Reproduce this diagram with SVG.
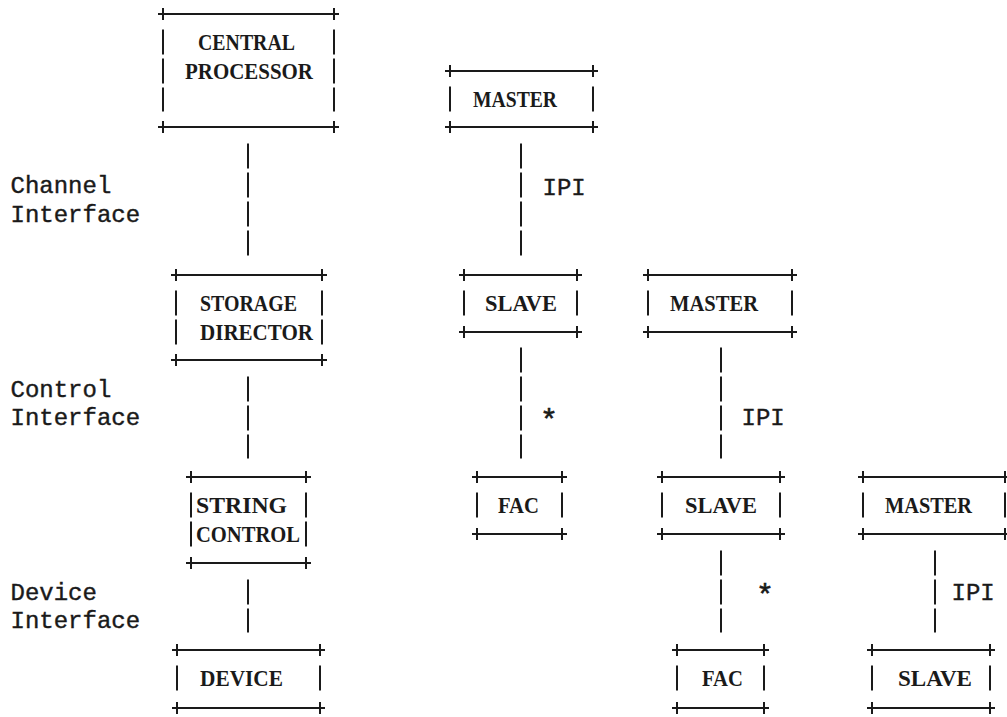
<svg xmlns="http://www.w3.org/2000/svg" width="1007" height="717" viewBox="0 0 1007 717">
<style>
text{font-family:"Liberation Mono","Courier New",monospace;font-size:24px;fill:#1a1a1a}
.bt{font-family:"Liberation Serif","Times New Roman",serif;font-weight:bold;font-size:24px}
.lb{stroke:#1a1a1a;stroke-width:0.4}
.as{font-size:30px;stroke:#1a1a1a;stroke-width:0.6}
.b{stroke:#1a1a1a;stroke-width:2;fill:none}
.v{stroke:#1a1a1a;stroke-width:2;fill:none;stroke-dasharray:25 4}
</style>
<rect width="1007" height="717" fill="#fff"/>
<g id="labels">
<text class="lb" x="10.5" y="193">Channel</text>
<text class="lb" x="10.5" y="222">Interface</text>
<text class="lb" x="10.5" y="397">Control</text>
<text class="lb" x="10.5" y="425">Interface</text>
<text class="lb" x="10.5" y="600">Device</text>
<text class="lb" x="10.5" y="628">Interface</text>
</g>
<g id="connectors">
<path class="v" d="M248 143.5V256.5"/>
<path class="v" d="M248 376.5V458.5"/>
<path class="v" d="M248 579.5V632.5"/>
<path class="v" d="M521 143.5V256.5"/>
<path class="v" d="M521 347.5V458.5"/>
<path class="v" d="M721 347.5V458.5"/>
<path class="v" d="M721 550.5V632.5"/>
<path class="v" d="M935 550.5V632.5"/>
<text class="lb" x="542.5" y="195">IPI</text>
<text class="as" x="540" y="430">*</text>
<text class="lb" x="741.5" y="425">IPI</text>
<text class="as" x="756" y="605">*</text>
<text class="lb" x="951.5" y="600">IPI</text>
</g>
<g id="central-processor">
<path class="b" d="M158 14H339M163 8V20M334 8V20M158 127H339M163 121V133M334 121V133"/>
<path class="v" d="M163 29.5V111.5M334 29.5V111.5"/>
<text class="bt" x="198" y="50" textLength="97" lengthAdjust="spacingAndGlyphs">CENTRAL</text>
<text class="bt" x="185" y="79" textLength="128" lengthAdjust="spacingAndGlyphs">PROCESSOR</text>
</g>
<g id="master-1">
<path class="b" d="M445 71H598M450 65V77M593 65V77M445 127H598M450 121V133M593 121V133"/>
<path class="v" d="M450 86.5V111.5M593 86.5V111.5"/>
<text class="bt" x="473" y="107" textLength="84" lengthAdjust="spacingAndGlyphs">MASTER</text>
</g>
<g id="storage-director">
<path class="b" d="M171 275H327M176 269V281M322 269V281M171 360H327M176 354V366M322 354V366"/>
<path class="v" d="M176 290.5V344.5M322 290.5V344.5"/>
<text class="bt" x="200" y="311" textLength="97" lengthAdjust="spacingAndGlyphs">STORAGE</text>
<text class="bt" x="200" y="340" textLength="113" lengthAdjust="spacingAndGlyphs">DIRECTOR</text>
</g>
<g id="slave-1">
<path class="b" d="M459 275H582M464 269V281M577 269V281M459 332H582M464 326V338M577 326V338"/>
<path class="v" d="M464 290.5V315.5M577 290.5V315.5"/>
<text class="bt" x="485" y="311" textLength="72" lengthAdjust="spacingAndGlyphs">SLAVE</text>
</g>
<g id="master-2">
<path class="b" d="M643 275H797M648 269V281M792 269V281M643 332H797M648 326V338M792 326V338"/>
<path class="v" d="M648 290.5V315.5M792 290.5V315.5"/>
<text class="bt" x="670" y="311" textLength="88" lengthAdjust="spacingAndGlyphs">MASTER</text>
</g>
<g id="string-control">
<path class="b" d="M186 477H311M191 471V483M306 471V483M186 563H311M191 557V569M306 557V569"/>
<path class="v" d="M191 492.5V546.5M306 492.5V546.5"/>
<text class="bt" x="196" y="513" textLength="91" lengthAdjust="spacingAndGlyphs">STRING</text>
<text class="bt" x="196" y="542" textLength="104" lengthAdjust="spacingAndGlyphs">CONTROL</text>
</g>
<g id="fac-1">
<path class="b" d="M472 477H567M477 471V483M562 471V483M472 534H567M477 528V540M562 528V540"/>
<path class="v" d="M477 492.5V517.5M562 492.5V517.5"/>
<text class="bt" x="498" y="513" textLength="41" lengthAdjust="spacingAndGlyphs">FAC</text>
</g>
<g id="slave-2">
<path class="b" d="M657 477H785M662 471V483M780 471V483M657 534H785M662 528V540M780 528V540"/>
<path class="v" d="M662 492.5V517.5M780 492.5V517.5"/>
<text class="bt" x="685" y="513" textLength="72" lengthAdjust="spacingAndGlyphs">SLAVE</text>
</g>
<g id="master-3">
<path class="b" d="M858 477H1010M863 471V483M1005 471V483M858 534H1010M863 528V540M1005 528V540"/>
<path class="v" d="M863 492.5V517.5M1005 492.5V517.5"/>
<text class="bt" x="885" y="513" textLength="87" lengthAdjust="spacingAndGlyphs">MASTER</text>
</g>
<g id="device">
<path class="b" d="M172 650H325M177 644V656M320 644V656M172 708H325M177 702V714M320 702V714"/>
<path class="v" d="M177 665.5V690.5M320 665.5V690.5"/>
<text class="bt" x="200" y="686" textLength="83" lengthAdjust="spacingAndGlyphs">DEVICE</text>
</g>
<g id="fac-2">
<path class="b" d="M672 650H769M677 644V656M764 644V656M672 708H769M677 702V714M764 702V714"/>
<path class="v" d="M677 665.5V690.5M764 665.5V690.5"/>
<text class="bt" x="702" y="686" textLength="41" lengthAdjust="spacingAndGlyphs">FAC</text>
</g>
<g id="slave-3">
<path class="b" d="M867 650H995M872 644V656M990 644V656M867 708H995M872 702V714M990 702V714"/>
<path class="v" d="M872 665.5V690.5M990 665.5V690.5"/>
<text class="bt" x="898" y="686" textLength="74" lengthAdjust="spacingAndGlyphs">SLAVE</text>
</g>
</svg>
